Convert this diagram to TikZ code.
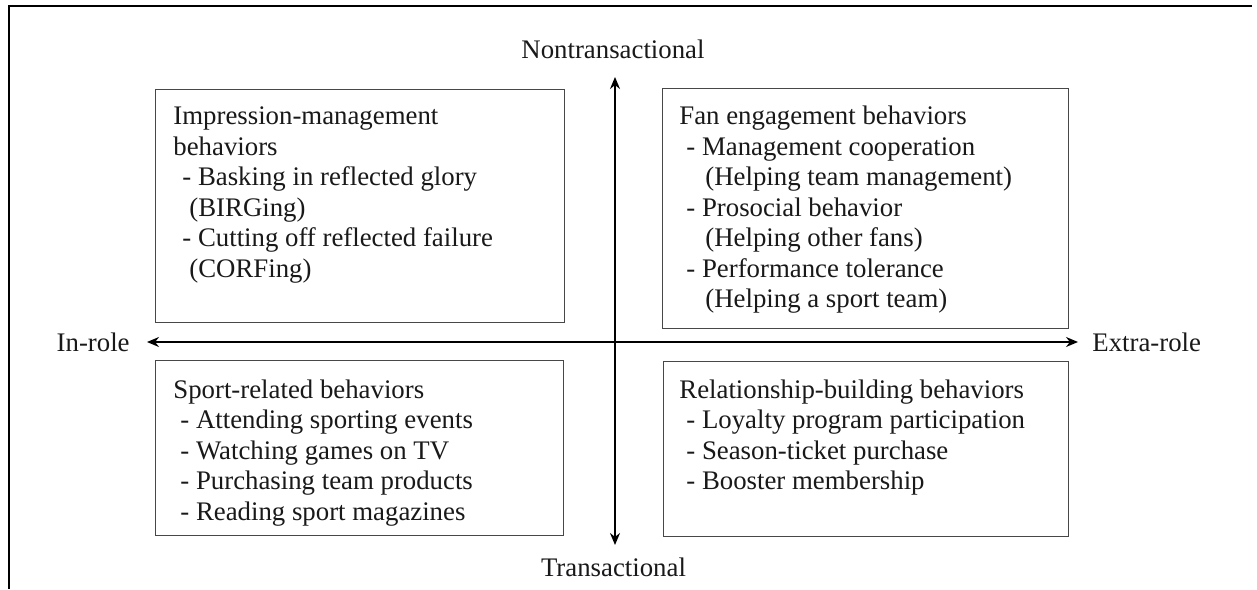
\documentclass[tikz,border=0pt]{standalone}
\usepackage{fontspec}
\setmainfont{Liberation Serif}
\usetikzlibrary{arrows.meta}
\begin{document}
\begin{tikzpicture}[x=0.5pt,y=-0.5pt,
  box/.style={draw=black!72, line width=0.7pt, anchor=north west, inner sep=0pt},
  txt/.style={anchor=base west, inner sep=0pt, font=\fontsize{13.4}{15.25}\selectfont, text=black!90},
  axisline/.style={line width=0.75pt, {Stealth[length=6pt,width=5pt]}-{Stealth[length=6pt,width=5pt]}},
  framestyle/.style={line width=1.4pt}]
\fill[white] (0,0) rectangle (1257,589);
\useasboundingbox (0,0) rectangle (1257,589);
% outer frame
\coordinate (f1) at (9,6);
\coordinate (f2) at (1252,6);
\coordinate (f3) at (9,589);
\draw[framestyle] (f2) -- (f1) -- (f3);
% boxes
\node[box, minimum width=204.5pt, minimum height=116.5pt] (tl) at (155,89) {};
\node[box, minimum width=203pt, minimum height=120pt] (tr) at (662,88) {};
\node[box, minimum width=204pt, minimum height=87.5pt] (bl) at (155,360) {};
\node[box, minimum width=202.5pt, minimum height=87.5pt] (br) at (663,361) {};
% box texts
\foreach \d/\lbl [count=\i from 0] in {0/Impression-management, 0/behaviors, 9/- Basking in reflected glory, 16/(BIRGing), 9/- Cutting off reflected failure, 16/(CORFing)}
  \node[txt] (tlt\i) at ({173+\d},{124.5+30.5*\i}) {\lbl};
\foreach \d/\lbl [count=\i from 0] in {0/Fan engagement behaviors, 7/- Management cooperation, 26/(Helping team management), 7/- Prosocial behavior, 26/(Helping other fans), 7/- Performance tolerance, 26/(Helping a sport team)}
  \node[txt] (trt\i) at ({679+\d},{124.5+30.5*\i}) {\lbl};
\foreach \d/\lbl [count=\i from 0] in {0/Sport-related behaviors, 7/- Attending sporting events, 7/- Watching games on TV, 7/- Purchasing team products, 7/- Reading sport magazines}
  \node[txt] (blt\i) at ({173+\d},{398+30.5*\i}) {\lbl};
\foreach \d/\lbl [count=\i from 0] in {0/Relationship-building behaviors, 7/- Loyalty program participation, 7/- Season-ticket purchase, 7/- Booster membership}
  \node[txt] (brt\i) at ({679+\d},{398+30.5*\i}) {\lbl};
% axis labels
\node[txt, anchor=base] (nt) at (613,58) {Nontransactional};
\node[txt, anchor=base] (ta) at (613.5,576) {Transactional};
\node[txt, anchor=base east] (ir) at (130,351) {In-role};
\node[txt, anchor=base west] (er) at (1092,351) {Extra-role};
% axes
\coordinate (vtop) at (615,77);
\coordinate (vbot) at (615,545);
\coordinate (hl) at (147,342);
\coordinate (hr) at (1078,342);
\draw[axisline] (vtop) -- (vbot);
\draw[axisline] (hl) -- (hr);
\end{tikzpicture}
\end{document}
